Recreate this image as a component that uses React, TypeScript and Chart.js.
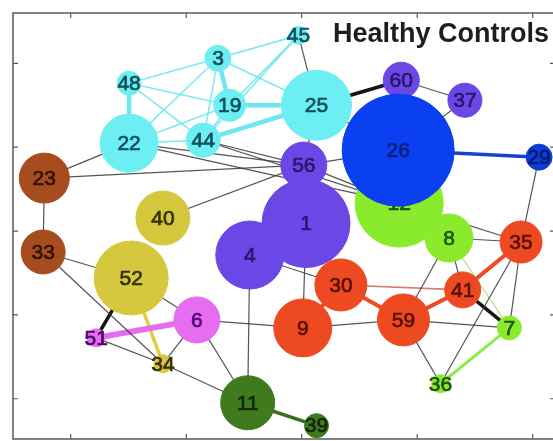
import React, { useEffect, useRef } from "react";
import { Chart, registerables } from "chart.js";

Chart.register(...registerables);

// ---- data (node positions in axis units, node weights, community) ----
const nodeIds = [12, 1, 45, 3, 48, 19, 25, 22, 44, 60, 37, 56, 26, 29, 23, 40, 33, 52, 4, 8, 35, 30, 41, 6, 9, 59, 7, 51, 34, 36, 11, 39];
const nodeX = [3.844, 3.037, 2.972, 2.275, 1.505, 2.376, 3.128, 1.505, 2.147, 3.862, 4.413, 3.018, 3.835, 5.055, 0.771, 1.798, 0.761, 1.523, 2.55, 4.275, 4.899, 3.339, 4.394, 2.092, 3.009, 3.881, 4.798, 1.22, 1.798, 4.202, 2.532, 3.128];
const nodeY = [3.333, 3.09, 5.333, 5.06, 4.762, 4.5, 4.5, 4.048, 4.083, 4.798, 4.56, 3.786, 3.964, 3.881, 3.631, 3.155, 2.75, 2.44, 2.714, 2.917, 2.869, 2.357, 2.298, 1.94, 1.845, 1.94, 1.845, 1.726, 1.417, 1.179, 0.952, 0.679];
const nodeWeight = [44, 44, 9, 13, 12, 16, 35, 29, 17, 18, 17, 23, 56, 13, 25, 27, 22, 37, 34, 24, 21, 26, 18, 23, 29, 26, 12, 9, 9, 9, 27, 12];
const nodeModule = ["lime", "purple", "cyan", "cyan", "cyan", "cyan", "cyan", "cyan", "cyan", "purple", "purple", "purple", "blue", "navy", "brown", "yellow", "brown", "yellow", "purple", "lime", "red", "red", "red", "magenta", "red", "red", "lime", "magenta", "yellow", "lime", "dkgreen", "dkgreen"];
const bottomLayer = [12, 1];

const xTickValues = [1, 2, 3, 4, 5];
const yTickValues = [1, 2, 3, 4, 5];
const plotTitle = "Healthy Controls";

const edgesCyanThin = [[48, 3], [48, 19], [48, 44], [3, 45], [3, 44], [3, 22], [3, 25], [45, 19], [45, 44], [19, 44], [22, 44], [22, 19]];
const edgesCyanThick = [[48, 22], [3, 19], [19, 25], [44, 25]];
const edgesGray = [[45, 25], [22, 23], [22, 56], [23, 56], [44, 56], [40, 56], [22, 12], [44, 12], [56, 26], [56, 12], [25, 26], [25, 56], [60, 37], [37, 26], [29, 35], [23, 33], [33, 52], [33, 34], [52, 6], [6, 11], [51, 34], [6, 34], [6, 9], [34, 11], [4, 11], [1, 9], [4, 30], [9, 59], [59, 8], [59, 36], [59, 7], [8, 41], [8, 35], [12, 35], [35, 7], [35, 36]];
const edgesBlack = [[25, 60], [41, 7], [52, 51]];
const edgesRed = [[59, 41], [41, 35], [30, 59], [30, 9]];
const edgesPink = [[30, 41]];
const edgesMagenta = [[51, 6]];
const edgesYellow = [[52, 34]];
const edgesLightGreen = [[7, 36]];
const edgesPaleGreen = [[8, 7]];
const edgesBlue = [[26, 29]];
const edgesDarkGreen = [[11, 39]];

// ---- styles ----
const fillColor: Record<string, string> = {
  cyan: "#6deef2",
  purple: "#6b47e6",
  blue: "#0b40f0",
  navy: "#0c3ed4",
  lime: "#8aea2c",
  red: "#ee4a22",
  brown: "#a64c1e",
  yellow: "#d6c83e",
  magenta: "#e66cf0",
  dkgreen: "#3f7a1e",
};
const textColor: Record<string, string> = {
  cyan: "#0f4f5a",
  purple: "#2a176e",
  blue: "#0a1f78",
  navy: "#071a70",
  lime: "#1d560c",
  red: "#5a1108",
  brown: "#321205",
  yellow: "#363008",
  magenta: "#4a0a6a",
  dkgreen: "#0f2806",
};

function pos(id: number) {
  const i = nodeIds.indexOf(id);
  return { x: nodeX[i], y: nodeY[i] };
}

function edgeSets(list: number[][], color: string, width: number) {
  return list.map((e) => ({
    type: "scatter" as const,
    data: [pos(e[0]), pos(e[1])],
    showLine: true,
    borderColor: color,
    backgroundColor: color,
    borderWidth: width,
    pointRadius: 0,
    order: 5,
    clip: false as any,
  }));
}

function nodeLayer(ids: number[], order: number) {
  const idx = ids.map((id) => nodeIds.indexOf(id));
  return {
    type: "bubble" as const,
    isNodes: true,
    nodeLabels: idx.map((i) => String(nodeIds[i])),
    labelColors: idx.map((i) => textColor[nodeModule[i]]),
    data: idx.map((i) => ({ x: nodeX[i], y: nodeY[i], r: nodeWeight[i] })),
    backgroundColor: idx.map((i) => fillColor[nodeModule[i]]),
    borderColor: idx.map((i) => fillColor[nodeModule[i]]),
    borderWidth: 1,
    order,
    clip: false as any,
  };
}

const framePlugin = {
  id: "frame",
  beforeDatasetsDraw(chart: any) {
    const { ctx, chartArea: a, scales } = chart;
    ctx.save();
    ctx.strokeStyle = "#5a5a5a";
    ctx.lineWidth = 1.5;
    ctx.beginPath();
    ctx.moveTo(a.right, a.top);
    ctx.lineTo(a.left, a.top);
    ctx.lineTo(a.left, a.bottom);
    ctx.lineTo(a.right, a.bottom);
    ctx.lineTo(a.right, a.top);
    ctx.stroke();
    ctx.lineWidth = 1.2;
    ctx.beginPath();
    xTickValues.forEach((v) => {
      const px = scales.x.getPixelForValue(v);
      ctx.moveTo(px, a.top);
      ctx.lineTo(px, a.top + 5);
      ctx.moveTo(px, a.bottom);
      ctx.lineTo(px, a.bottom - 5);
    });
    yTickValues.forEach((v) => {
      const py = scales.y.getPixelForValue(v);
      ctx.moveTo(a.left, py);
      ctx.lineTo(a.left + 5, py);
      ctx.moveTo(a.right, py);
      ctx.lineTo(a.right - 5, py);
    });
    ctx.stroke();
    ctx.restore();
  },
  afterDatasetDraw(chart: any, args: any) {
    const ds = chart.data.datasets[args.index];
    if (!ds.isNodes) return;
    const { ctx } = chart;
    const meta = args.meta;
    ctx.save();
    ctx.font = '21px "Liberation Sans", Arial, sans-serif';
    ctx.textAlign = "center";
    ctx.textBaseline = "middle";
    ctx.lineWidth = 0.7;
    meta.data.forEach((el: any, i: number) => {
      ctx.fillStyle = ds.labelColors[i];
      ctx.strokeStyle = ds.labelColors[i];
      ctx.fillText(ds.nodeLabels[i], el.x, el.y + 1);
      ctx.strokeText(ds.nodeLabels[i], el.x, el.y + 1);
    });
    ctx.restore();
  },
  afterDraw(chart: any) {
    const { ctx, scales } = chart;
    ctx.save();
    ctx.font = 'bold 27px "Liberation Sans", Arial, sans-serif';
    ctx.fillStyle = "#1e1e1e";
    ctx.textBaseline = "alphabetic";
    ctx.textAlign = "left";
    const x = scales.x.getPixelForValue(3.27);
    const y = scales.y.getPixelForValue(5.25);
    ctx.fillText(plotTitle, x, y);
    ctx.restore();
  },
};

export default function App() {
  const ref = useRef<HTMLCanvasElement>(null);
  useEffect(() => {
    if (!ref.current) return;
    const topIds = nodeIds.filter((id) => !bottomLayer.includes(id));
    const datasets: any[] = [
      ...edgeSets(edgesGray, "rgba(55,55,55,0.85)", 1.2),
      ...edgeSets(edgesPaleGreen, "rgba(170,225,130,0.9)", 1.3),
      ...edgeSets(edgesPink, "rgba(205,100,90,0.85)", 1.6),
      ...edgeSets(edgesCyanThin, "rgba(110,232,238,0.9)", 1.6),
      ...edgeSets(edgesCyanThick, "rgba(110,232,238,1)", 4.5),
      ...edgeSets(edgesBlack, "#151515", 3.5),
      ...edgeSets(edgesRed, "#ee4a24", 4),
      ...edgeSets(edgesMagenta, "#e46cf0", 6),
      ...edgeSets(edgesYellow, "#dccf40", 3.5),
      ...edgeSets(edgesLightGreen, "#8dea4c", 3),
      ...edgeSets(edgesBlue, "#1b3fd0", 3.5),
      ...edgeSets(edgesDarkGreen, "#3b6e1e", 3.5),
      nodeLayer(bottomLayer, 2),
      nodeLayer(topIds, 1),
    ];
    const chart = new Chart(ref.current, {
      type: "scatter",
      data: { datasets },
      options: {
        animation: false,
        responsive: false,
        events: [],
        layout: { autoPadding: false, padding: { left: 13, top: 13, right: 18, bottom: 2 } },
        plugins: { legend: { display: false }, tooltip: { enabled: false }, title: { display: false } },
        scales: {
          x: { type: "linear", min: 0.5, max: 5.193, display: false },
          y: { type: "linear", min: 0.52, max: 5.6, display: false },
        },
      },
      plugins: [framePlugin],
    });
    return () => chart.destroy();
  }, []);
  return (
    <div style={{ position: "fixed", left: 0, top: 0, width: 553, height: 441, overflow: "hidden", background: "#fff" }}>
      <canvas ref={ref} width={573} height={441} style={{ width: 573, height: 441, display: "block" }} />
    </div>
  );
}
